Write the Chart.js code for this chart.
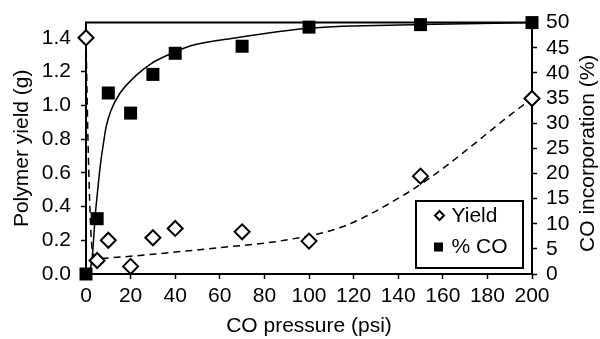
<!DOCTYPE html>
<html>
<head>
<meta charset="utf-8">
<script src="https://cdn.jsdelivr.net/npm/chart.js@4.4.1/dist/chart.umd.min.js"></script>
<style>
  html, body { margin: 0; padding: 0; background: #fff; }
  #wrap { width: 600px; height: 339px; }
</style>
</head>
<body>
<div id="wrap"><canvas id="chart" width="600" height="339"></canvas></div>
<script>
// Measured points
const pressure = [0, 5, 10, 20, 30, 40, 70, 100, 150, 200];
const yieldG   = [1.40, 0.08, 0.20, 0.045, 0.215, 0.27, 0.25, 0.195, 0.58, 1.04];
const coPct    = [0, 11, 36, 32, 39.7, 43.9, 45.3, 49.1, 49.6, 50];

// Trend curves
const coFitP = [0, 1.3, 2.8, 4.2, 4.8, 5.7, 6.7, 7.8, 9, 11.2, 15, 22.5, 29.1, 36.5, 47, 66, 100, 150, 200];
const coFitV = [0, 0.3, 3.4, 12, 14.7, 18.7, 22.6, 25.9, 29.2, 32.5, 35.8, 39.5, 41.8, 43.5, 45.4, 46.9, 48.9, 49.6, 50];
const yieldFitP = [0, 0.5, 0.9, 1.6, 2.4, 3.4, 4.6, 8, 26, 55, 89, 115, 144, 159, 174, 189, 200];
const yieldFitV = [1.40, 1.05, 0.79, 0.45, 0.2, 0.11, 0.09, 0.093, 0.112, 0.15, 0.2, 0.28, 0.48, 0.615, 0.77, 0.93, 1.04];

const xTicks = [0, 20, 40, 60, 80, 100, 120, 140, 160, 180, 200];
const leftTicks = [0, 0.2, 0.4, 0.6, 0.8, 1.0, 1.2, 1.4];
const rightTicks = [0, 5, 10, 15, 20, 25, 30, 35, 40, 45, 50];
const legendLabels = ['Yield', '% CO'];
const rightTitle = 'CO incorporation (%)';

const FONT = "'Liberation Sans', Arial, Helvetica, sans-serif";
const FSIZE = 21;
Chart.defaults.font.family = FONT;
Chart.defaults.font.size = FSIZE;
Chart.defaults.color = '#000';

const zip = (xs, ys) => xs.map((x, i) => ({ x: x, y: ys[i] }));
const fixTicks = list => s => { s.ticks = list.map(v => ({ value: v })); };

// Box legend inside the plot, top border line and rotated right title
const extrasPlugin = {
    id: 'extras',
    afterDraw(chart) {
        const ctx = chart.ctx;
        const a = chart.chartArea;
        ctx.save();
        // top border of the plot
        ctx.strokeStyle = '#000';
        ctx.lineWidth = 2;
        ctx.beginPath();
        ctx.moveTo(a.left - 1, a.top);
        ctx.lineTo(a.right + 1, a.top);
        ctx.stroke();

        // legend box
        const w = 107, h = 67;
        const bx = a.right - 9 - w, by = a.bottom - 6 - h;
        ctx.fillStyle = '#fff';
        ctx.fillRect(bx, by, w, h);
        ctx.strokeRect(bx, by, w, h);

        // diamond
        const dx = bx + 23.5, dy = by + 14.5, r = 4.5;
        ctx.beginPath();
        ctx.moveTo(dx, dy - r);
        ctx.lineTo(dx + r, dy);
        ctx.lineTo(dx, dy + r);
        ctx.lineTo(dx - r, dy);
        ctx.closePath();
        ctx.lineWidth = 2;
        ctx.stroke();
        // square
        ctx.fillStyle = '#000';
        ctx.fillRect(bx + 18, by + 41.5, 9, 9);

        ctx.font = FSIZE + 'px ' + FONT;
        ctx.textAlign = 'left';
        ctx.textBaseline = 'middle';
        ctx.fillText(legendLabels[0], bx + 35.5, dy + 1);
        ctx.fillText(legendLabels[1], bx + 35.5, by + 46.5);

        // right axis title, reading bottom to top
        ctx.translate(588, (a.top + a.bottom) / 2 + 5);
        ctx.rotate(-Math.PI / 2);
        ctx.textAlign = 'center';
        ctx.fillText(rightTitle, 0, 0);
        ctx.restore();
    }
};

const axisGrid = {
    drawOnChartArea: false,
    drawTicks: true,
    tickLength: 5,
    tickWidth: 1.5,
    tickColor: '#000',
    color: '#000'
};
const axisBorder = { color: '#000', width: 2 };

new Chart(document.getElementById('chart'), {
    type: 'scatter',
    data: {
        datasets: [
            {
                label: legendLabels[0],
                data: zip(pressure, yieldG),
                yAxisID: 'y',
                pointStyle: 'rectRot',
                pointRadius: 7.5,
                pointBorderWidth: 2,
                pointBorderColor: '#000',
                pointBackgroundColor: '#fff',
                showLine: false,
                clip: false
            },
            {
                label: legendLabels[1],
                data: zip(pressure, coPct),
                yAxisID: 'y2',
                pointStyle: 'rect',
                pointRadius: 9.2,
                pointBorderWidth: 0,
                pointBackgroundColor: '#000',
                showLine: false,
                clip: false
            },
            {
                label: 'yield fit',
                data: zip(yieldFitP, yieldFitV),
                yAxisID: 'y',
                showLine: true,
                pointRadius: 0,
                borderColor: '#000',
                borderWidth: 1.5,
                borderDash: [7, 5],
                cubicInterpolationMode: 'monotone',
                clip: false
            },
            {
                label: 'co fit',
                data: zip(coFitP, coFitV),
                yAxisID: 'y2',
                showLine: true,
                pointRadius: 0,
                borderColor: '#000',
                borderWidth: 1.5,
                cubicInterpolationMode: 'monotone',
                clip: false
            }
        ]
    },
    options: {
        responsive: false,
        animation: false,
        layout: { padding: { top: 22, left: 0, right: 0, bottom: 0 } },
        plugins: {
            legend: { display: false },
            tooltip: { enabled: false }
        },
        scales: {
            x: {
                type: 'linear',
                min: 0,
                max: 200,
                afterBuildTicks: fixTicks(xTicks),
                afterFit: s => { s.height = 65; },
                ticks: { padding: 5, color: '#000', maxRotation: 0, autoSkip: false },
                grid: axisGrid,
                border: axisBorder,
                title: { display: true, text: 'CO pressure (psi)', color: '#000', padding: { top: 0, bottom: 0 } }
            },
            y: {
                position: 'left',
                min: 0,
                max: 1.49,
                afterBuildTicks: fixTicks(leftTicks),
                afterFit: s => { s.width = 86; },
                ticks: { padding: 10, color: '#000', autoSkip: false, callback: v => v.toFixed(1) },
                grid: axisGrid,
                border: axisBorder,
                title: { display: true, text: 'Polymer yield (g)', color: '#000', padding: { top: 10, bottom: 0 } }
            },
            y2: {
                position: 'right',
                min: 0,
                max: 50,
                afterBuildTicks: fixTicks(rightTicks),
                afterFit: s => { s.width = 68; },
                ticks: { padding: 9, color: '#000', autoSkip: false },
                grid: axisGrid,
                border: axisBorder,
                title: { display: false }
            }
        }
    },
    plugins: [extrasPlugin]
});
</script>
</body>
</html>
